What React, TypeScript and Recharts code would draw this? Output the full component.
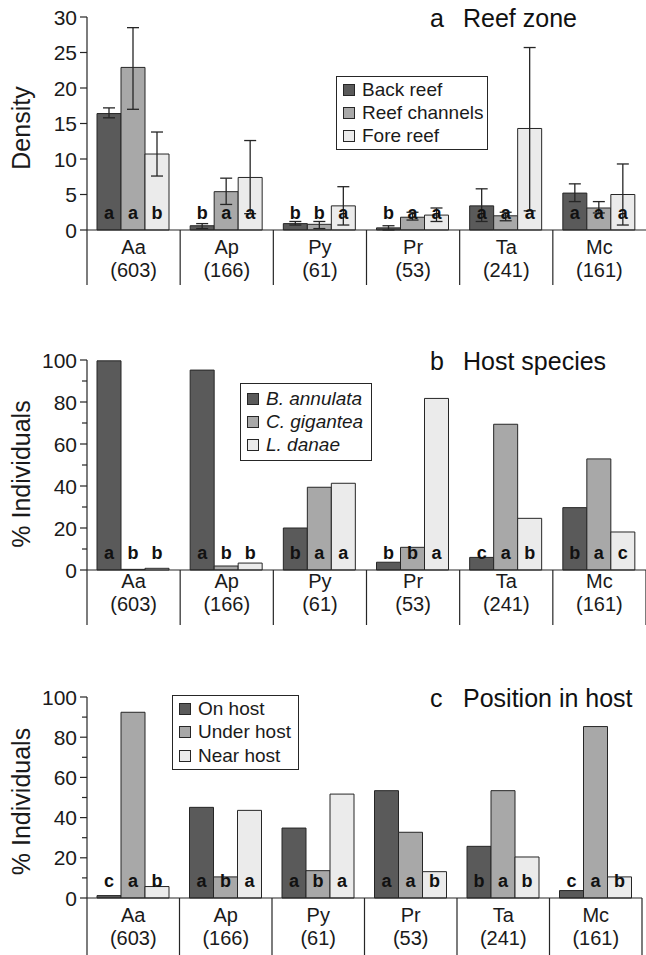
import React from "react";
import {
  Bar,
  BarChart,
  ErrorBar,
  LabelList,
  Legend,
  XAxis,
  YAxis,
} from "recharts";

const FONT = '"Liberation Sans", Arial, Helvetica, sans-serif';
const INK = "#262626";
const FILLS = ["#5a5a5a", "#a8a8a8", "#ebebeb"];
const W = 646;
const AXIS_X = 87;

const species = ["Aa", "Ap", "Py", "Pr", "Ta", "Mc"];
const sampleSizes = ["(603)", "(166)", "(61)", "(53)", "(241)", "(161)"];

// a  Reef zone (density, mean with error range)
const zoneNames = ["Back reef", "Reef channels", "Fore reef"];
const backReef = [16.4, 0.6, 0.9, 0.3, 3.4, 5.2];
const backReefLo = [15.8, 0.2, 0.7, 0.0, 1.2, 4.0];
const backReefHi = [17.2, 0.9, 1.2, 0.6, 5.8, 6.5];
const reefChannels = [22.9, 5.4, 0.8, 1.8, 2.0, 3.1];
const reefChannelsLo = [17.0, 3.6, 0.2, 1.4, 1.3, 2.4];
const reefChannelsHi = [28.5, 7.3, 1.2, 2.5, 2.5, 4.0];
const foreReef = [10.7, 7.4, 3.4, 2.1, 14.3, 5.0];
const foreReefLo = [7.6, 2.3, 0.7, 1.2, 2.7, 0.7];
const foreReefHi = [13.8, 12.6, 6.1, 3.1, 25.7, 9.3];
const backReefLetters = ["a", "b", "b", "b", "a", "a"];
const reefChannelsLetters = ["a", "a", "b", "a", "a", "a"];
const foreReefLetters = ["b", "a", "a", "a", "a", "a"];

// b  Host species (% individuals)
const hostNames = ["B. annulata", "C. gigantea", "L. danae"];
const bAnnulata = [99.6, 95.2, 20.0, 3.7, 6.0, 29.7];
const cGigantea = [0.3, 1.9, 39.4, 10.8, 69.4, 52.9];
const lDanae = [0.8, 3.3, 41.3, 81.7, 24.6, 18.1];
const bAnnulataLetters = ["a", "a", "b", "b", "c", "b"];
const cGiganteaLetters = ["b", "b", "a", "b", "a", "a"];
const lDanaeLetters = ["b", "b", "a", "a", "b", "c"];

// c  Position in host (% individuals)
const positionNames = ["On host", "Under host", "Near host"];
const onHost = [1.2, 45.1, 34.8, 53.4, 25.7, 3.7];
const underHost = [92.4, 10.5, 13.6, 32.7, 53.4, 85.3];
const nearHost = [5.7, 43.6, 51.7, 13.1, 20.4, 10.5];
const onHostLetters = ["c", "a", "a", "a", "b", "c"];
const underHostLetters = ["a", "b", "b", "a", "a", "a"];
const nearHostLetters = ["b", "a", "a", "b", "b", "b"];

const densityTicks = [0, 5, 10, 15, 20, 25, 30];
const percentTicks = [0, 10, 20, 30, 40, 50, 60, 70, 80, 90, 100];

function buildRows(
  series: number[][],
  letters: string[][],
  lo?: number[][],
  hi?: number[][]
) {
  return species.map((sp, i) => {
    const row: Record<string, any> = { sp };
    series.forEach((s, k) => {
      row[`v${k}`] = s[i];
      row[`l${k}`] = letters[k][i];
      if (lo && hi) row[`e${k}`] = [s[i] - lo[k][i], hi[k][i] - s[i]];
    });
    return row;
  });
}

const zoneRows = buildRows(
  [backReef, reefChannels, foreReef],
  [backReefLetters, reefChannelsLetters, foreReefLetters],
  [backReefLo, reefChannelsLo, foreReefLo],
  [backReefHi, reefChannelsHi, foreReefHi]
);
const hostRows = buildRows(
  [bAnnulata, cGigantea, lDanae],
  [bAnnulataLetters, cGiganteaLetters, lDanaeLetters]
);
const positionRows = buildRows(
  [onHost, underHost, nearHost],
  [onHostLetters, underHostLetters, nearHostLetters]
);

function ValueTick(props: any) {
  const { y, payload, isMajor } = props;
  const major = isMajor(payload.value);
  return (
    <g>
      <line
        x1={AXIS_X - (major ? 7 : 5)}
        x2={AXIS_X}
        y1={y}
        y2={y}
        stroke={INK}
        strokeWidth={1.2}
      />
      {major && (
        <text
          x={AXIS_X - 10}
          y={y}
          dy="0.36em"
          textAnchor="end"
          fontSize={21}
          fontFamily={FONT}
          fill="#1a1a1a"
        >
          {payload.value}
        </text>
      )}
    </g>
  );
}

function CategoryTick(props: any) {
  const { x, y, payload, band, line1, line2, sepLen, rightSep } = props;
  const i = species.indexOf(payload.value);
  const last = i === species.length - 1;
  return (
    <g>
      <line
        x1={x - band / 2}
        x2={x - band / 2}
        y1={y}
        y2={y + sepLen}
        stroke={INK}
        strokeWidth={1.2}
      />
      {last && rightSep && (
        <line
          x1={x + band / 2}
          x2={x + band / 2}
          y1={y}
          y2={y + sepLen}
          stroke={INK}
          strokeWidth={1.2}
        />
      )}
      <text
        x={x}
        y={y + line1}
        textAnchor="middle"
        fontSize={20}
        fontFamily={FONT}
        fill="#1a1a1a"
      >
        {payload.value}
      </text>
      <text
        x={x}
        y={y + line2}
        textAnchor="middle"
        fontSize={20}
        fontFamily={FONT}
        fill="#1a1a1a"
      >
        {sampleSizes[i]}
      </text>
    </g>
  );
}

function YTitle({ text, cy }: { text: string; cy: number }) {
  return (
    <text
      x={30}
      y={cy}
      transform={`rotate(-90 30 ${cy})`}
      textAnchor="middle"
      fontSize={25}
      fontFamily={FONT}
      fill="#1a1a1a"
    >
      {text}
    </text>
  );
}

function BarLetter(props: any) {
  const { x, y, width, height, value } = props;
  return (
    <text
      x={Number(x) + Number(width) / 2}
      y={Number(y) + Number(height) - 11}
      textAnchor="middle"
      fontSize={18}
      fontWeight="bold"
      fontFamily={FONT}
      fill="#111"
    >
      {value}
    </text>
  );
}

function LegendBox({
  names,
  italic,
  width,
  height,
}: {
  names: string[];
  italic: boolean;
  width: number;
  height: number;
}) {
  return (
    <div
      style={{
        width,
        height,
        boxSizing: "border-box",
        border: `1.5px solid ${INK}`,
        background: "#fff",
        display: "flex",
        flexDirection: "column",
        justifyContent: "center",
        padding: "0 6px",
        fontFamily: FONT,
      }}
    >
      {names.map((name, i) => (
        <div
          key={name}
          style={{ display: "flex", alignItems: "center", height: 23.3 }}
        >
          <span
            style={{
              width: 12,
              height: 12,
              boxSizing: "border-box",
              border: `1px solid ${INK}`,
              background: FILLS[i],
              marginRight: 7,
              flex: "none",
            }}
          />
          <span
            style={{
              fontSize: 19,
              fontStyle: italic ? "italic" : "normal",
              color: "#1a1a1a",
              whiteSpace: "nowrap",
            }}
          >
            {name}
          </span>
        </div>
      ))}
    </div>
  );
}

type PanelProps = {
  top: number;
  height: number;
  marginTop: number;
  marginRight: number;
  axisH: number;
  domainMax: number;
  ticks: number[];
  isMajor: (v: number) => boolean;
  rows: Record<string, any>[];
  names: string[];
  errors: boolean;
  yTitle: string;
  yTitleY: number;
  line1: number;
  line2: number;
  sepLen: number;
  rightSep: boolean;
  legend: { left: number; top: number; width: number; height: number; italic: boolean };
  letter: string;
  title: string;
  titleY: number;
};

function Panel(p: PanelProps) {
  const band = (W - AXIS_X - p.marginRight) / species.length;
  return (
    <div style={{ position: "absolute", left: 0, top: p.top, width: W, height: p.height }}>
      <BarChart
        width={W}
        height={p.height}
        data={p.rows}
        margin={{ top: p.marginTop, right: p.marginRight, left: 27, bottom: 0 }}
        barCategoryGap={10}
        barGap={0}
      >
        <XAxis
          dataKey="sp"
          height={p.axisH}
          interval={0}
          tickLine={false}
          tickSize={0}
          tickMargin={0}
          axisLine={{ stroke: INK, strokeWidth: 1.2 }}
          tick={
            <CategoryTick
              band={band}
              line1={p.line1}
              line2={p.line2}
              sepLen={p.sepLen}
              rightSep={p.rightSep}
            />
          }
        />
        <YAxis
          width={60}
          domain={[0, p.domainMax]}
          ticks={p.ticks}
          interval={0}
          tickLine={false}
          tickSize={0}
          tickMargin={0}
          axisLine={{ stroke: INK, strokeWidth: 1.2 }}
          tick={<ValueTick isMajor={p.isMajor} />}
          label={<YTitle text={p.yTitle} cy={p.yTitleY} />}
        />
        <Legend
          layout="vertical"
          align="center"
          verticalAlign="middle"
          wrapperStyle={{
            left: p.legend.left,
            top: p.legend.top,
            width: "auto",
            height: "auto",
          }}
          content={() => (
            <LegendBox
              names={p.names}
              italic={p.legend.italic}
              width={p.legend.width}
              height={p.legend.height}
            />
          )}
        />
        {p.names.map((name, k) => (
          <Bar
            key={name}
            dataKey={`v${k}`}
            name={name}
            fill={FILLS[k]}
            stroke={INK}
            strokeWidth={1}
            isAnimationActive={false}
          >
            <LabelList dataKey={`l${k}`} content={(lp: any) => <BarLetter {...lp} />} />
            {p.errors && (
              <ErrorBar
                dataKey={`e${k}`}
                direction="y"
                width={6}
                stroke={INK}
                strokeWidth={1.3}
                isAnimationActive={false}
              />
            )}
          </Bar>
        ))}
      </BarChart>
      <svg
        width={W}
        height={p.height}
        style={{ position: "absolute", left: 0, top: 0, pointerEvents: "none" }}
      >
        <text x={430} y={p.titleY} fontSize={25} fontFamily={FONT} fill="#111">
          {p.letter}
        </text>
        <text x={463} y={p.titleY} fontSize={25} fontFamily={FONT} fill="#111">
          {p.title}
        </text>
      </svg>
    </div>
  );
}

export default function App() {
  return (
    <div
      style={{
        position: "absolute",
        left: 0,
        top: 0,
        width: W,
        height: 955,
        background: "#fff",
        overflow: "hidden",
      }}
    >
      <Panel
        top={0}
        height={300}
        marginTop={17}
        marginRight={0}
        axisH={70}
        domainMax={30}
        ticks={densityTicks}
        isMajor={() => true}
        rows={zoneRows}
        names={zoneNames}
        errors={true}
        yTitle="Density"
        yTitleY={128}
        line1={24}
        line2={47}
        sepLen={55}
        rightSep={false}
        legend={{ left: 336, top: 76, width: 152, height: 74, italic: false }}
        letter="a"
        title="Reef zone"
        titleY={27}
      />
      <Panel
        top={300}
        height={330}
        marginTop={60}
        marginRight={0}
        axisH={60}
        domainMax={100}
        ticks={percentTicks}
        isMajor={(v) => v % 20 === 0}
        rows={hostRows}
        names={hostNames}
        errors={false}
        yTitle="% Individuals"
        yTitleY={174}
        line1={18}
        line2={41}
        sepLen={55}
        rightSep={true}
        legend={{ left: 240, top: 83, width: 132, height: 78, italic: true }}
        letter="b"
        title="Host species"
        titleY={70}
      />
      <Panel
        top={630}
        height={325}
        marginTop={67}
        marginRight={4}
        axisH={57}
        domainMax={100}
        ticks={percentTicks}
        isMajor={(v) => v % 20 === 0}
        rows={positionRows}
        names={positionNames}
        errors={false}
        yTitle="% Individuals"
        yTitleY={171.5}
        line1={24}
        line2={47}
        sepLen={57}
        rightSep={true}
        legend={{ left: 172, top: 65, width: 127, height: 75, italic: false }}
        letter="c"
        title="Position in host"
        titleY={77}
      />
    </div>
  );
}
